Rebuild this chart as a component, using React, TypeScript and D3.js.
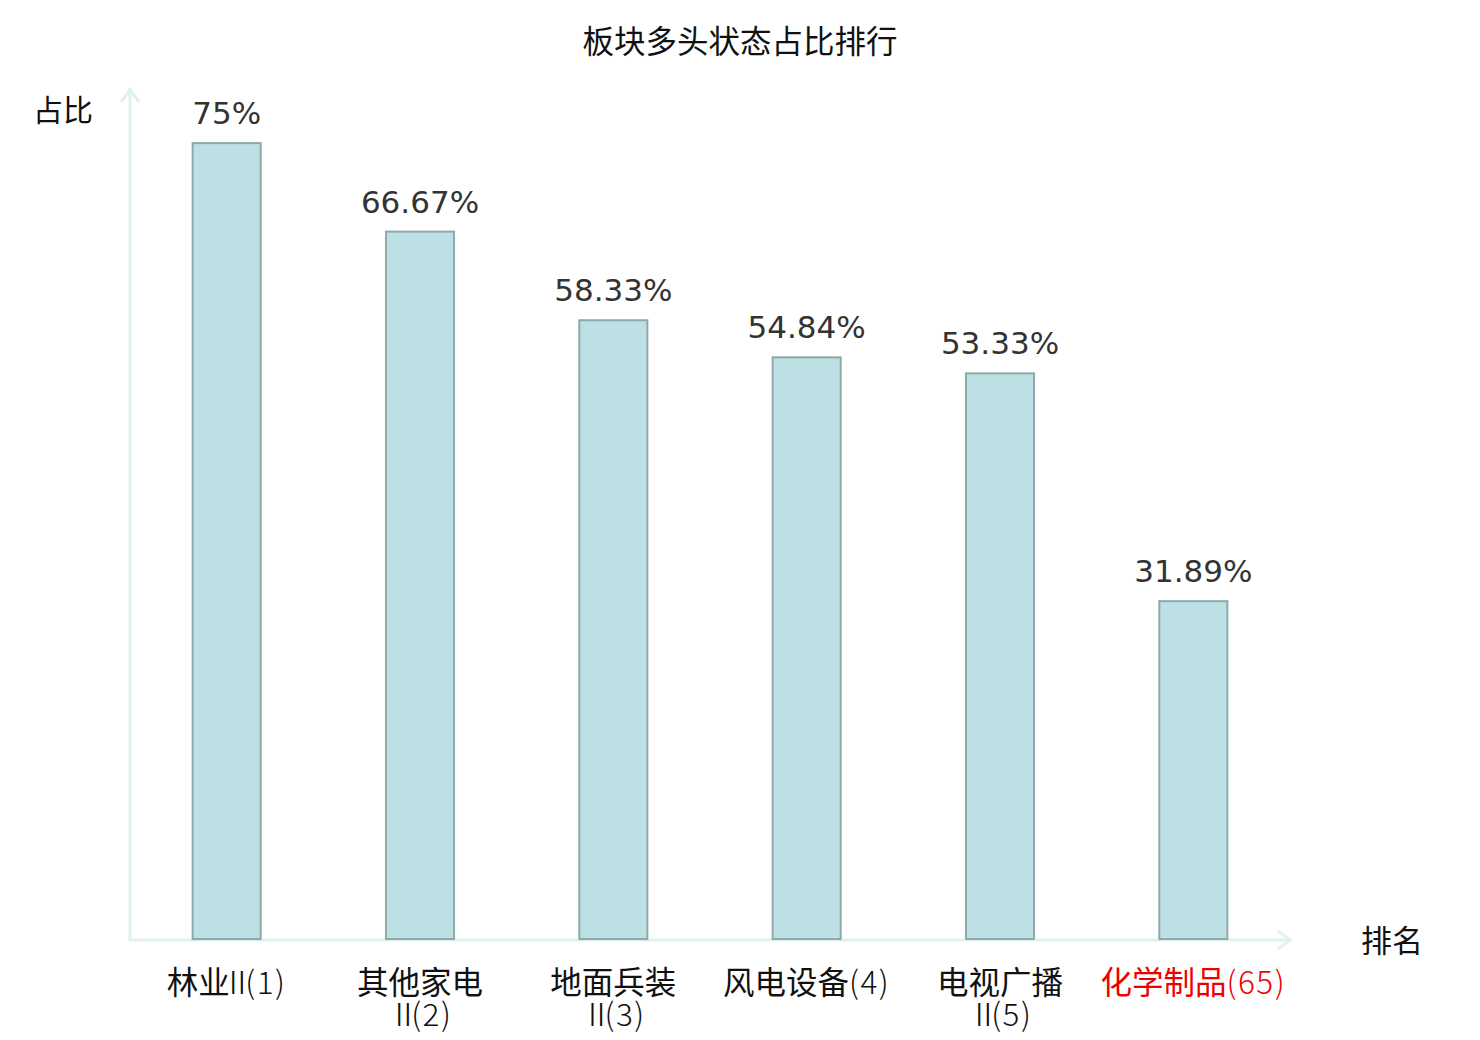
import React, { useEffect, useRef } from 'react';
import * as d3 from 'd3';

// 板块名称（含换行）与多头状态占比
const categories: string[] = [
  '林业Ⅱ(1)',
  '其他家电\nⅡ(2)',
  '地面兵装\nⅡ(3)',
  '风电设备(4)',
  '电视广播\nⅡ(5)',
  '化学制品(65)',
];
const ratios: number[] = [75, 66.67, 58.33, 54.84, 53.33, 31.89];
const highlighted: boolean[] = [false, false, false, false, false, true];

const title = '板块多头状态占比排行';
const yName = '占比';
const xName = '排名';

const WIDTH = 1480;
const HEIGHT = 1040;

const CJK = '"Noto Sans CJK SC", "Noto Sans", sans-serif';
const NUM = '"DejaVu Sans", sans-serif';

type Kind = 'cjk' | 'roman' | 'other';

// split a label line into runs: CJK chars, the roman numeral, and the rest (lighter)
const splitRuns = (s: string) => {
  const runs: { text: string; kind: Kind }[] = [];
  for (const ch of s) {
    const kind: Kind = /[\u4e00-\u9fff]/.test(ch) ? 'cjk' : ch === 'Ⅱ' ? 'roman' : 'other';
    const last = runs[runs.length - 1];
    if (last && last.kind === kind) last.text += ch;
    else runs.push({ text: ch, kind });
  }
  return runs;
};

const App: React.FC = () => {
  const svgRef = useRef<SVGSVGElement>(null);

  useEffect(() => {
    document.body.style.margin = '0';
    if (!svgRef.current) return;

    const svg = d3.select(svgRef.current);
    svg.selectAll('*').remove();
    svg.attr('width', WIDTH).attr('height', HEIGHT);

    const left = 130;
    const right = 1290;
    const bottom = 940;
    const top = 90;

    const x = d3.scaleBand<string>()
      .domain(categories)
      .range([left, right])
      .paddingInner(0.648)
      .paddingOuter(0.324);

    const y = d3.scaleLinear()
      .domain([0, 80])
      .range([bottom, top]);

    const axisColor = '#dff2f0';

    // axes with arrows
    const axes = svg.append('g')
      .attr('stroke', axisColor)
      .attr('stroke-width', 3)
      .attr('fill', 'none')
      .attr('stroke-linecap', 'square');

    axes.append('line')
      .attr('x1', left).attr('y1', bottom)
      .attr('x2', left).attr('y2', top);
    axes.append('path')
      .attr('d', `M${left - 9},${top + 12}L${left},${top}L${left + 9},${top + 12}`)
      .attr('stroke-linecap', 'butt');

    axes.append('line')
      .attr('x1', left).attr('y1', bottom)
      .attr('x2', right).attr('y2', bottom);
    axes.append('path')
      .attr('d', `M${right - 12},${bottom - 9}L${right},${bottom}L${right - 12},${bottom + 9}`)
      .attr('stroke-linecap', 'butt');

    // bars
    svg.append('g')
      .selectAll('rect')
      .data(ratios)
      .enter()
      .append('rect')
      .attr('x', (d, i) => x(categories[i])!)
      .attr('y', d => y(d))
      .attr('width', x.bandwidth())
      .attr('height', d => bottom - 1 - y(d))
      .attr('fill', '#bce0e3')
      .attr('stroke', '#8ea9a9')
      .attr('stroke-width', 2);

    // value labels
    svg.append('g')
      .selectAll('text')
      .data(ratios)
      .enter()
      .append('text')
      .attr('x', (d, i) => x(categories[i])! + x.bandwidth() / 2)
      .attr('y', d => y(d) - 19)
      .attr('text-anchor', 'middle')
      .attr('fill', '#333333')
      .attr('font-family', NUM)
      .attr('font-size', 31)
      .text(d => `${d}%`);

    // category labels, one text per line, centred by measuring
    categories.forEach((name, i) => {
      const cx = x(name)! + x.bandwidth() / 2;
      name.split('\n').forEach((line, j) => {
        const t = svg.append('text')
          .attr('x', cx)
          .attr('y', 994 + j * 32)
          .attr('fill', highlighted[i] ? '#ee0000' : '#111111')
          .attr('font-family', CJK)
          .attr('font-size', 31.5);
        splitRuns(line).forEach(run => {
          const ts = t.append('tspan')
            .attr('font-weight', run.kind === 'cjk' ? 400 : 300)
            .text(run.text);
          if (run.kind === 'roman') {
            ts.attr('dx', -8).attr('letter-spacing', -8);
          } else if (run.kind === 'other') {
            ts.attr('letter-spacing', 1.5);
          }
        });
        const node = t.node() as SVGTextElement;
        const box = node.getBBox();
        const shift = cx - (box.x + box.width / 2);
        t.attr('x', cx + shift);
      });
    });

    // title and axis names
    svg.append('text')
      .attr('x', WIDTH / 2)
      .attr('y', 53)
      .attr('text-anchor', 'middle')
      .attr('fill', '#111111')
      .attr('font-family', CJK)
      .attr('font-size', 31.5)
      .text(title);

    svg.append('text')
      .attr('x', 63)
      .attr('y', 121)
      .attr('text-anchor', 'middle')
      .attr('fill', '#111111')
      .attr('font-family', CJK)
      .attr('font-size', 30)
      .text(yName);

    svg.append('text')
      .attr('x', 1392)
      .attr('y', 952)
      .attr('text-anchor', 'middle')
      .attr('fill', '#111111')
      .attr('font-family', CJK)
      .attr('font-size', 31)
      .text(xName);
  }, []);

  return (
    <div style={{ width: WIDTH, height: HEIGHT, background: '#ffffff' }}>
      <svg ref={svgRef} style={{ display: 'block' }}></svg>
    </div>
  );
};

export default App;
